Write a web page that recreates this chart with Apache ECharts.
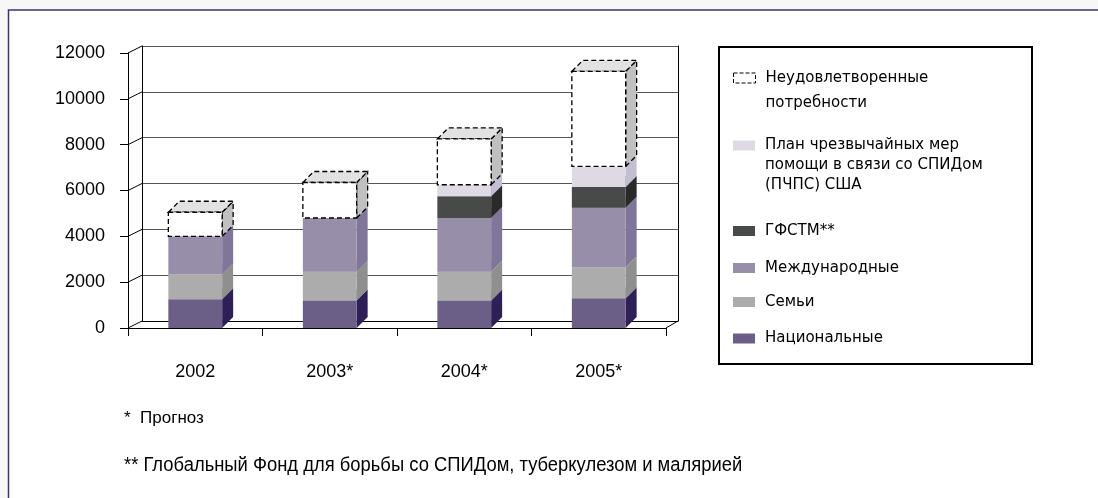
<!DOCTYPE html>
<html>
<head>
<meta charset="utf-8">
<script src="https://cdn.jsdelivr.net/npm/echarts@6/dist/echarts.min.js"></script>
<style>
  html, body { margin: 0; padding: 0; background: #f7f7f7; }
  #main { width: 1098px; height: 498px; }
</style>
</head>
<body>
<div id="main"></div>
<script>
// данные (млн долл.)
const years = ['2002', '2003*', '2004*', '2005*'];
const yTicks = [0, 2000, 4000, 6000, 8000, 10000, 12000];
const national = [1250, 1200, 1200, 1300];
const families = [1100, 1250, 1250, 1350];
const international = [1650, 2350, 2350, 2600];
const gfatm = [0, 0, 950, 900];
const pepfar = [0, 0, 500, 900];
const unmet = [1050, 1550, 2000, 4150];

const NAME_NAT = 'Национальные';
const NAME_FAM = 'Семьи';
const NAME_INTL = 'Международные';
const NAME_GF = 'ГФСТМ**';
const NAME_PEPFAR = 'План чрезвычайных мер\nпомощи в связи со СПИДом\n(ПЧПС) США';
const NAME_UNMET = 'Неудовлетворенные\nпотребности';

const layers = [
  { name: NAME_NAT, values: national, front: '#6b5f88', side: '#2f1f57', top: '#8a80a5' },
  { name: NAME_FAM, values: families, front: '#acacac', side: '#8f8f8f', top: '#c4c4c4' },
  { name: NAME_INTL, values: international, front: '#978fa9', side: '#7f7699', top: '#b2abc0' },
  { name: NAME_GF, values: gfatm, front: '#484a4a', side: '#2a2a2a', top: '#626464' },
  { name: NAME_PEPFAR, values: pepfar, front: '#dedae3', side: '#c4bed3', top: '#ebe8ef' },
  { name: NAME_UNMET, values: unmet, front: '#ffffff', side: '#c0c0c0', top: '#e1e2e1', dashed: true }
];

const DX = 11, DY = -11;   // глубина столбика
const FONT = "'Liberation Sans', Arial, sans-serif";

function box(layer) {
  return function (params, api) {
    const i = api.value(0), lo = api.value(1), hi = api.value(2);
    if (hi <= lo) return null;
    const b = api.coord([i, lo]);
    const t = api.coord([i, hi]);
    const half = api.size([1, 0])[0] * 0.2;
    const l = b[0] - half, r = b[0] + half, yb = b[1], yt = t[1];
    const edge = layer.dashed ? { stroke: '#000', lineWidth: 1.3, lineDash: [5, 3] } : {};
    return {
      type: 'group',
      children: [
        { type: 'polygon', shape: { points: [[r, yb], [r + DX, yb + DY], [r + DX, yt + DY], [r, yt]] },
          style: Object.assign({ fill: layer.side }, edge) },
        { type: 'polygon', shape: { points: [[l, yt], [l + DX, yt + DY], [r + DX, yt + DY], [r, yt]] },
          style: Object.assign({ fill: layer.top }, edge) },
        { type: 'rect', shape: { x: l, y: yt, width: r - l, height: yb - yt },
          style: Object.assign({ fill: layer.front }, edge) }
      ]
    };
  };
}

const stackBase = years.map(() => 0);
const barSeries = layers.map(function (layer) {
  const data = layer.values.map(function (v, i) {
    const item = [i, stackBase[i], stackBase[i] + v];
    stackBase[i] += v;
    return item;
  });
  return {
    type: 'custom',
    name: layer.name,
    xAxisIndex: 0,
    yAxisIndex: 0,
    silent: true,
    z: 3,
    itemStyle: { color: layer.front },
    encode: { x: 0, y: [1, 2] },
    data: data,
    renderItem: box(layer)
  };
});

// косые линии от передней оси к задней стенке
const depthSeries = {
  type: 'custom',
  xAxisIndex: 0,
  yAxisIndex: 0,
  silent: true,
  z: 1,
  encode: { x: 0, y: 1 },
  data: yTicks.map(v => [0, v]),
  renderItem: function (params, api) {
    const cs = params.coordSys;
    const v = api.value(1);
    const y = api.coord([0, v])[1];
    const st = { stroke: '#000', lineWidth: 1 };
    const kids = [{ type: 'line', shape: { x1: cs.x, y1: y, x2: cs.x + 14, y2: y - 7 }, style: st }];
    if (v === 0) {
      kids.push({ type: 'line', shape: { x1: cs.x + cs.width, y1: y, x2: cs.x + cs.width + 12, y2: y - 7 }, style: st });
    }
    return { type: 'group', children: kids };
  }
};

// значок стоит напротив первой строки: сверху добавляем пустые строки
function legendAt(name, cy, lines, lh, itemStyle) {
  const total = 2 * lines - 1;
  return {
    left: 733,
    top: cy - total * lh / 2,
    orient: 'vertical',
    padding: 0,
    icon: 'rect',
    itemWidth: 22,
    itemHeight: 10,
    selectedMode: false,
    data: [{ name: name, itemStyle: itemStyle }],
    formatter: function (n) { return '\n'.repeat(lines - 1) + n; },
    textStyle: {
      fontFamily: "'DejaVu Sans', sans-serif",
      fontSize: 15,
      color: '#000',
      lineHeight: lh,
      padding: [0, 0, 0, 5]
    }
  };
}

const chart = echarts.init(document.getElementById('main'));
chart.setOption({
  animation: false,
  backgroundColor: '#f7f7f7',
  graphic: [
    { type: 'rect', z: -100, shape: { x: 8.5, y: 10, width: 1200, height: 600 },
      style: { fill: '#ffffff', stroke: '#3e3270', lineWidth: 1.5 } },
    { type: 'rect', z: -90, shape: { x: 719, y: 47, width: 313, height: 317 },
      style: { fill: '#ffffff', stroke: '#000', lineWidth: 2 } },
    { type: 'text', left: 124, top: 410,
      style: { text: '*  Прогноз', font: '17px ' + FONT, fill: '#000' } },
    { type: 'text', left: 124, top: 455, scaleX: 0.92,
      style: { text: '** Глобальный Фонд для борьбы со СПИДом, туберкулезом и малярией', font: '20px ' + FONT, fill: '#000' } }
  ],
  legend: [
    legendAt(NAME_UNMET, 78, 2, 25, { color: '#ffffff', borderColor: '#000', borderWidth: 1, borderType: 'dashed' }),
    legendAt(NAME_PEPFAR, 145.5, 3, 20, { color: '#dedae3' }),
    legendAt(NAME_GF, 231, 1, 20, { color: '#484a4a' }),
    legendAt(NAME_INTL, 268, 1, 20, { color: '#978fa9' }),
    legendAt(NAME_FAM, 302, 1, 20, { color: '#acacac' }),
    legendAt(NAME_NAT, 338.5, 1, 20, { color: '#6b5f88' })
  ],
  grid: [
    { left: 128, top: 53, width: 538, height: 275 },
    { left: 142, top: 46, width: 536, height: 275 }
  ],
  xAxis: [
    {
      type: 'category', gridIndex: 0, data: years,
      axisLine: { lineStyle: { color: '#000', width: 1 } },
      axisTick: { show: true, length: 8, lineStyle: { color: '#000' } },
      axisLabel: { color: '#000', fontSize: 18, fontFamily: FONT, margin: 35 }
    },
    {
      type: 'category', gridIndex: 1, data: years,
      axisLine: { lineStyle: { color: '#000', width: 1 } },
      axisTick: { show: false }, axisLabel: { show: false }
    }
  ],
  yAxis: [
    {
      type: 'value', gridIndex: 0, min: 0, max: 12000, interval: 2000,
      axisLine: { show: true, lineStyle: { color: '#000', width: 1 } },
      axisTick: { show: true, length: 8, lineStyle: { color: '#000' } },
      axisLabel: { color: '#000', fontSize: 18, fontFamily: FONT, margin: 23, formatter: v => String(v) },
      splitLine: { show: false }
    },
    {
      type: 'value', gridIndex: 1, min: 0, max: 12000, interval: 2000,
      axisLine: { show: true, lineStyle: { color: '#000', width: 1 } },
      axisTick: { show: false }, axisLabel: { show: false },
      splitLine: { show: true, lineStyle: { color: '#555', width: 1 } }
    },
    {
      type: 'value', gridIndex: 1, position: 'right', min: 0, max: 12000, interval: 2000,
      axisLine: { show: true, lineStyle: { color: '#000', width: 1 } },
      axisTick: { show: false }, axisLabel: { show: false }, splitLine: { show: false }
    }
  ],
  series: [depthSeries].concat(barSeries)
});
</script>
</body>
</html>
